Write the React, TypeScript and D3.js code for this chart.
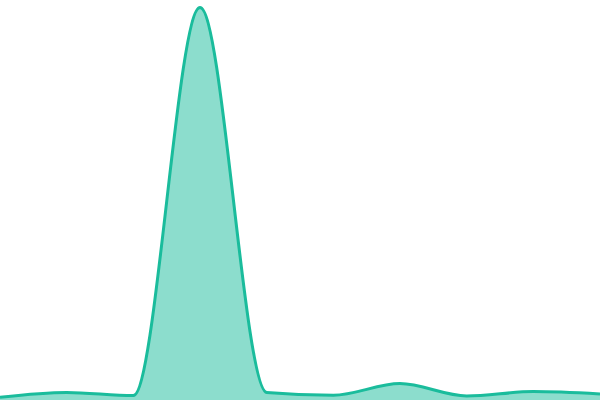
import * as d3 from 'd3'
import { useEffect, useRef } from 'react'

// One series, evenly spaced samples across the width
const steps = [0, 1, 2, 3, 4, 5, 6, 7, 8, 9]
const values = [0.7, 1.9, 1.1, 98.1, 1.9, 1.2, 4.1, 1.0, 2.1, 1.5]
const yMax = 100

const width = 600
const height = 400

export default function App() {
    const svgRef = useRef<SVGSVGElement>(null)

    useEffect(() => {
        if (!svgRef.current) return
        const svg = d3.select(svgRef.current)
        svg.selectAll('*').remove()

        const x = d3.scaleLinear().domain([0, steps.length - 1]).range([0, width])
        const y = d3.scaleLinear().domain([0, yMax]).range([height, 0])

        const data = steps.map((s, i) => ({ s, v: values[i] }))

        const area = d3
            .area<{ s: number; v: number }>()
            .x((d) => x(d.s))
            .y0(height)
            .y1((d) => y(d.v))
            .curve(d3.curveMonotoneX)

        const line = d3
            .line<{ s: number; v: number }>()
            .x((d) => x(d.s))
            .y((d) => y(d.v))
            .curve(d3.curveMonotoneX)

        svg.append('path')
            .datum(data)
            .attr('d', area)
            .attr('fill', '#1abc9c')
            .attr('fill-opacity', 0.5)

        svg.append('path')
            .datum(data)
            .attr('d', line)
            .attr('fill', 'none')
            .attr('stroke', '#1abc9c')
            .attr('stroke-width', 3)
    }, [])

    return (
        <svg
            ref={svgRef}
            width={width}
            height={height}
            style={{ position: 'fixed', left: 0, top: 0, display: 'block' }}
        />
    )
}
